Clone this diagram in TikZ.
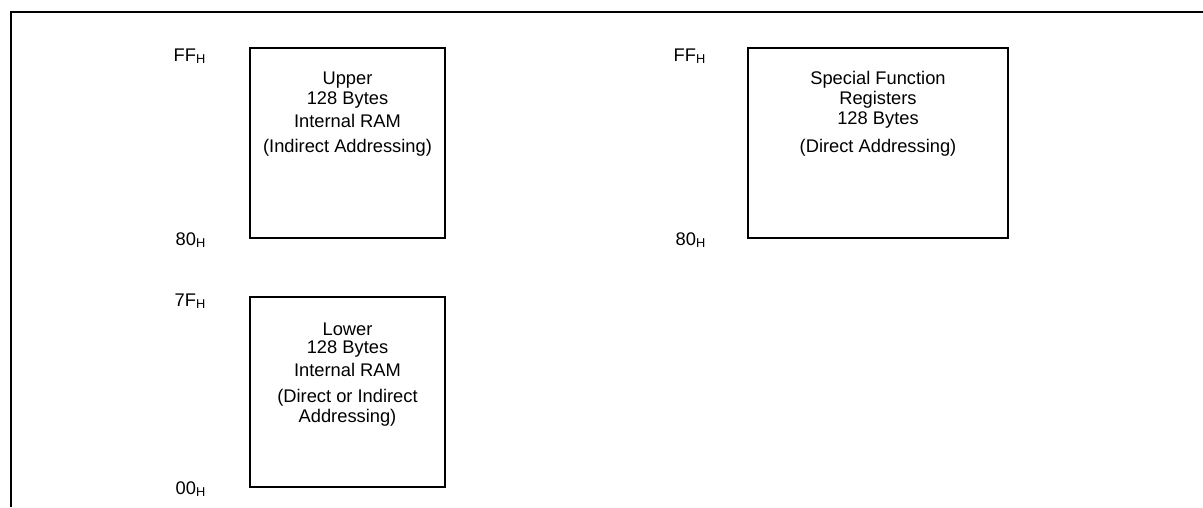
\documentclass[tikz,border=0pt]{standalone}
\usepackage{fontspec}
\setmainfont{Liberation Sans}
\begin{document}
\begin{tikzpicture}[x=1pt,y=-1pt,
  membox/.style={draw,line width=1.6pt},
  lbl/.style={font=\fontsize{18.3}{20}\selectfont,inner sep=0pt},
  addr/.style={font=\fontsize{18.3}{20}\selectfont,inner sep=0pt,anchor=base east},
  frame/.style={line width=1.3pt}]
\useasboundingbox (0,0) rectangle (1203,507);
% outer frame
\coordinate (ftr) at (1203,12);
\coordinate (ftl) at (11,12);
\coordinate (fbl) at (11,507);
\draw[frame] (ftr) -- (ftl) -- (fbl);
% boxes
\draw[membox] (250,48) rectangle (445,238);
\draw[membox] (748,48) rectangle (1008,238);
\draw[membox] (250,297) rectangle (445,487);
% upper box text
\node[lbl] (u1) at (347.5,80) {Upper};
\node[lbl] (u2) at (347.5,100) {128 Bytes};
\node[lbl] (u3) at (347.5,120.5) {Internal RAM};
\node[lbl] (u4) at (347.5,148) {(Indirect Addressing)};
% SFR text
\node[lbl] (s1) at (878,80) {Special Function};
\node[lbl] (s2) at (878,100) {Registers};
\node[lbl] (s3) at (878,120.5) {128 Bytes};
\node[lbl] (s4) at (878,148) {(Direct Addressing)};
% lower box text
\node[lbl] (l1) at (347.5,329.5) {Lower};
\node[lbl] (l2) at (347.5,349.5) {128 Bytes};
\node[lbl] (l3) at (347.5,370) {Internal RAM};
\node[lbl] (l4) at (347.5,397.5) {(Direct or Indirect};
\node[lbl] (l5) at (347.5,418) {Addressing)};
% address labels
\node[addr] (a1) at (206,61) {FF\textsubscript{H}};
\node[addr] (a2) at (206,245) {80\textsubscript{H}};
\node[addr] (a3) at (706,61) {FF\textsubscript{H}};
\node[addr] (a4) at (706,245) {80\textsubscript{H}};
\node[addr] (a5) at (206,306) {7F\textsubscript{H}};
\node[addr] (a6) at (206,494) {00\textsubscript{H}};
\end{tikzpicture}
\end{document}
